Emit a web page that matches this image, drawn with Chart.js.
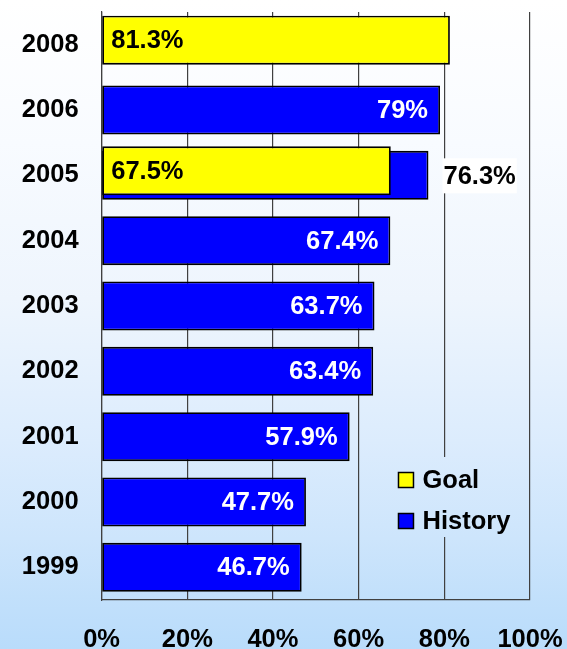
<!DOCTYPE html>
<html>
<head>
<meta charset="utf-8">
<script src="https://cdn.jsdelivr.net/npm/chart.js@4/dist/chart.umd.min.js"></script>
<style>
  html, body { margin: 0; padding: 0; background: #fff; }
  #wrap { width: 567px; height: 649px; }
</style>
</head>
<body>
<div id="wrap"><canvas id="c" width="567" height="649"></canvas></div>
<script>
const years = ['2008', '2006', '2005', '2004', '2003', '2002', '2001', '2000', '1999'];
const goal = [81.3, null, 67.5, null, null, null, null, null, null];
const history = [null, 79, 76.3, 67.4, 63.7, 63.4, 57.9, 47.7, 46.7];
const xTicks = [0, 20, 40, 60, 80, 100];

const FONT = 'bold 25.5px "Liberation Sans", Arial, sans-serif';
const GOAL_SHIFT = -4.5;   // goal bars sit a little higher than history bars
const LINE = '#404040';
let bgGradient = null;

function getBg(ctx, h) {
  if (!bgGradient) {
    bgGradient = ctx.createLinearGradient(0, 0, 0, h);
    bgGradient.addColorStop(0, '#ffffff');
    bgGradient.addColorStop(0.22, '#f8fbff');
    bgGradient.addColorStop(0.46, '#eef5fd');
    bgGradient.addColorStop(0.68, '#dcecfd');
    bgGradient.addColorStop(0.83, '#cde5fc');
    bgGradient.addColorStop(0.92, '#c2e0fb');
    bgGradient.addColorStop(1, '#b9dcfb');
  }
  return bgGradient;
}

// drop the label overflow padding chart.js adds, layout.padding decides instead
function noEdgePadding(scale) {
  scale.paddingTop = 0;
  scale.paddingBottom = 0;
  scale.paddingLeft = 0;
  scale.paddingRight = 0;
}

const background = {
  id: 'background',
  beforeDraw(chart) {
    const ctx = chart.ctx;
    ctx.save();
    ctx.fillStyle = getBg(ctx, chart.height);
    ctx.fillRect(0, 0, chart.width, chart.height);
    ctx.restore();
  }
};

const goalShift = {
  id: 'goalShift',
  beforeDatasetDraw(chart, args) {
    if (args.index !== 0) return;
    chart.ctx.save();
    chart.ctx.translate(0, GOAL_SHIFT);
  },
  afterDatasetDraw(chart, args) {
    if (args.index !== 0) return;
    chart.ctx.restore();
  }
};

const valueLabels = {
  id: 'valueLabels',
  afterDatasetsDraw(chart) {
    const ctx = chart.ctx;
    ctx.save();
    ctx.font = FONT;
    ctx.textBaseline = 'middle';
    chart.getDatasetMeta(0).data.forEach((bar, i) => {
      if (goal[i] == null) return;
      ctx.fillStyle = '#000';
      ctx.textAlign = 'left';
      ctx.fillText(goal[i] + '%', bar.base + 9, bar.y + GOAL_SHIFT + 1);
    });
    chart.getDatasetMeta(1).data.forEach((bar, i) => {
      if (history[i] == null) return;
      const txt = history[i] + '%';
      if (goal[i] != null) {
        const w = ctx.measureText(txt).width;
        const x = bar.x + 15;
        ctx.fillStyle = '#fff';
        ctx.fillRect(x - 1, bar.y - 17, w + 2, 35);
        ctx.fillStyle = '#000';
        ctx.textAlign = 'left';
        ctx.fillText(txt, x, bar.y + 2);
      } else {
        ctx.fillStyle = '#fff';
        ctx.textAlign = 'right';
        ctx.fillText(txt, bar.x - 12, bar.y + 1);
      }
    });
    ctx.restore();
  }
};

const boxLegend = {
  id: 'boxLegend',
  afterDatasetsDraw(chart) {
    const ctx = chart.ctx;
    const xs = chart.scales.x;
    const left = xs.getPixelForValue(68);
    const top = 457;
    ctx.save();
    ctx.fillStyle = getBg(ctx, chart.height);
    ctx.fillRect(left, top, xs.getPixelForValue(98) - left, 80);
    ctx.font = FONT;
    ctx.textBaseline = 'middle';
    ctx.textAlign = 'left';
    chart.data.datasets.forEach((ds, i) => {
      const cy = top + 23 + i * 41;
      const sx = xs.getPixelForValue(69.3);
      ctx.fillStyle = ds.backgroundColor;
      ctx.fillRect(sx, cy - 7.5, 15, 15);
      ctx.strokeStyle = '#000';
      ctx.lineWidth = 1.5;
      ctx.strokeRect(sx, cy - 7.5, 15, 15);
      ctx.fillStyle = '#000';
      ctx.fillText(ds.label, sx + 24, cy + 1);
    });
    ctx.restore();
  }
};

new Chart(document.getElementById('c'), {
  type: 'bar',
  data: {
    labels: years,
    datasets: [
      { label: 'Goal', data: goal, backgroundColor: '#ffff00', borderColor: '#000', borderWidth: 1.8, borderSkipped: false },
      { label: 'History', data: history, backgroundColor: '#0000ff', borderColor: '#000', borderWidth: 1.8, borderSkipped: false }
    ]
  },
  options: {
    indexAxis: 'y',
    responsive: false,
    animation: false,
    events: [],
    layout: { padding: { top: 12, right: 37, left: 0, bottom: 0 } },
    datasets: { bar: { grouped: false, barPercentage: 0.75, categoryPercentage: 1 } },
    plugins: { legend: { display: false }, tooltip: { enabled: false } },
    scales: {
      x: {
        min: 0, max: 100,
        afterBuildTicks(scale) { scale.ticks = xTicks.map(v => ({ value: v })); },
        afterFit(scale) { scale.height = 49; noEdgePadding(scale); },
        grid: { color: LINE, lineWidth: 1.2, drawTicks: false },
        border: { display: true, color: LINE, width: 1.2 },
        ticks: {
          padding: 25, color: '#000',
          font: { family: '"Liberation Sans", Arial, sans-serif', size: 25.5, weight: 'bold' },
          callback: v => v + '%', maxRotation: 0
        }
      },
      y: {
        afterFit(scale) { scale.width = 101.6; noEdgePadding(scale); },
        grid: { display: false, drawTicks: false },
        border: { display: true, color: LINE, width: 1.2 },
        ticks: {
          padding: 23, color: '#000',
          font: { family: '"Liberation Sans", Arial, sans-serif', size: 25.5, weight: 'bold' }
        }
      }
    }
  },
  plugins: [background, goalShift, valueLabels, boxLegend]
});
</script>
</body>
</html>
